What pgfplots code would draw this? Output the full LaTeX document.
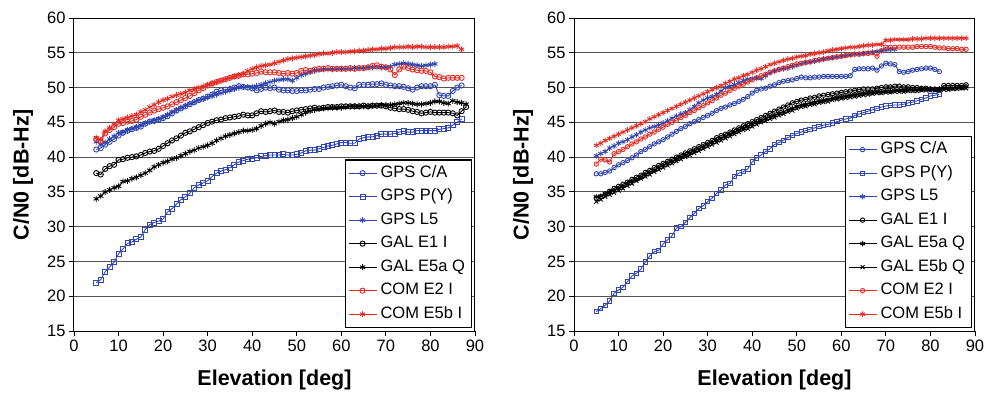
\documentclass[border=0pt]{standalone}
\usepackage{fontspec}
\setmainfont{Liberation Sans}
\usepackage{pgfplots}
\pgfplotsset{compat=1.18}
\usepackage{pgfplotstable}
\definecolor{gblue}{RGB}{50,70,175}
\definecolor{cred}{RGB}{228,45,38}
\definecolor{gridc}{RGB}{85,85,85}

\pgfplotstableread{
x ca py l5 e1 e5a e2 e5b
5 41.1 21.9 42.2 37.7 34.0 42.6 42.8
6 41.3 22.4 41.9 37.5 34.4 42.3 42.5
7 41.8 23.5 42.1 38.3 35.0 43.4 43.7
8 42.2 24.2 42.6 38.7 35.3 43.9 44.2
9 42.6 24.9 43.0 38.9 35.6 44.3 44.7
10 43.1 26.1 43.5 39.6 35.8 44.8 45.3
11 43.5 26.8 43.6 39.7 36.5 44.9 45.5
12 43.8 27.6 43.9 39.9 36.6 45.1 45.7
13 44.0 27.8 44.1 40.0 36.9 45.2 45.9
14 44.2 28.2 44.3 40.1 37.1 45.4 46.1
15 44.4 28.5 44.6 40.3 37.4 45.8 46.5
16 44.8 29.6 44.9 40.6 37.7 46.1 46.8
17 45.1 30.3 45.1 40.8 38.1 46.4 47.2
18 45.2 30.6 45.3 40.9 38.6 46.7 47.5
19 45.4 30.8 45.5 41.2 38.9 46.9 47.9
20 45.6 31.1 45.8 41.6 39.2 47.1 48.2
21 45.9 32.1 46.1 42.0 39.4 47.3 48.4
22 46.3 32.6 46.5 42.4 39.7 47.6 48.7
23 46.7 33.2 46.8 42.7 39.9 47.9 48.9
24 47.0 33.9 47.1 43.1 40.2 48.2 49.1
25 47.3 34.3 47.4 43.5 40.5 48.5 49.3
26 47.6 34.8 47.7 43.7 40.8 48.8 49.6
27 47.9 35.6 47.9 44.0 41.0 49.2 49.8
28 48.2 36.0 48.2 44.3 41.3 49.6 50.0
29 48.4 36.3 48.4 44.6 41.5 49.9 50.2
30 48.7 36.6 48.6 44.9 41.7 50.3 50.4
31 49.0 37.2 48.8 45.1 42.0 50.6 50.6
32 49.4 37.7 49.0 45.3 42.4 50.8 50.8
33 49.6 38.0 49.2 45.4 42.7 51.0 51.0
34 49.7 38.2 49.4 45.6 43.0 51.2 51.2
35 49.8 38.5 49.6 45.7 43.2 51.4 51.4
36 50.0 38.9 49.8 45.8 43.4 51.6 51.6
37 50.2 39.3 50.0 45.9 43.6 51.7 51.8
38 50.1 39.5 50.1 46.1 43.8 51.9 52.0
39 50.0 39.7 50.1 46.0 43.8 51.9 52.4
40 49.9 39.8 50.1 46.0 43.9 52.0 52.7
41 49.6 39.9 50.2 46.3 44.1 52.1 52.9
42 49.8 40.1 50.4 46.6 44.5 52.3 53.1
43 50.0 40.2 50.6 46.5 44.8 52.2 53.2
44 49.9 40.3 50.8 46.6 45.0 52.2 53.3
45 50.0 40.3 51.0 46.7 44.8 52.2 53.5
46 49.7 40.3 51.1 46.5 45.1 52.1 53.7
47 49.6 40.4 51.2 46.5 45.3 52.0 53.9
48 49.6 40.3 51.2 46.4 45.4 52.1 54.1
49 49.5 40.3 51.0 46.6 45.6 52.0 54.2
50 49.5 40.4 51.4 46.7 45.8 52.1 54.3
51 49.6 40.6 51.8 46.8 46.1 52.4 54.4
52 49.6 40.9 52.0 46.9 46.4 52.5 54.5
53 49.7 41.0 52.2 47.0 46.6 52.4 54.6
54 49.8 41.0 52.4 47.1 46.8 52.6 54.7
55 49.8 41.2 52.5 47.0 46.9 52.7 54.8
56 50.0 41.4 52.6 47.1 47.0 52.7 54.9
57 50.1 41.6 52.6 47.2 47.0 52.8 54.9
58 50.2 41.7 52.6 47.2 47.1 52.7 55.0
59 50.3 41.9 52.7 47.2 47.1 52.7 55.1
60 50.4 42.1 52.7 47.3 47.1 52.7 55.1
61 50.2 42.1 52.7 47.3 47.2 52.7 55.1
62 50.0 42.0 52.7 47.3 47.3 52.8 55.2
63 49.9 42.0 52.8 47.3 47.3 52.7 55.2
64 50.4 42.6 52.8 47.3 47.3 52.8 55.3
65 50.4 42.8 52.8 47.4 47.3 52.8 55.3
66 50.4 42.9 52.9 47.3 47.3 52.9 55.4
67 50.5 42.9 52.9 47.4 47.4 53.1 55.5
68 50.5 43.1 52.9 47.4 47.4 53.2 55.5
69 50.6 43.3 52.9 47.4 47.5 53.0 55.6
70 50.4 43.3 52.9 47.3 47.5 52.9 55.6
71 50.3 43.3 53.0 47.1 47.5 52.6 55.7
72 50.2 43.4 53.3 47.0 47.6 51.8 55.8
73 50.2 43.6 53.4 46.9 47.7 52.6 55.8
74 50.1 43.7 53.5 46.9 47.8 53.0 55.8
75 49.9 43.6 53.4 46.8 47.8 52.8 55.9
76 49.7 43.6 53.3 46.6 47.7 52.6 55.8
77 50.0 43.8 53.2 46.5 47.6 52.5 55.9
78 50.2 43.8 53.1 46.3 47.6 52.4 55.9
79 50.2 43.8 53.2 46.4 47.7 52.4 55.8
80 50.2 43.8 53.3 46.5 47.8 52.2 55.8
81 50.4 43.8 53.4 46.4 48.0 51.6 55.8
82 48.9 44.0 nan 46.4 48.0 51.5 55.8
83 48.8 44.1 nan 46.4 47.8 51.3 55.8
84 48.8 44.2 nan 46.4 47.7 51.4 55.9
85 49.5 44.6 nan 46.3 48.1 51.4 55.9
86 50.0 45.0 nan 46.0 47.9 51.4 56.0
87 50.3 45.5 nan 46.6 47.8 51.4 55.5
88 nan nan nan 47.2 47.6 nan nan
}\lefttab

\pgfplotstableread{
x ca py l5 e1 e5a e5b e2 e5bI
5 37.6 17.8 40.2 34.1 34.3 33.6 39.0 41.7
6 37.6 18.2 40.5 34.3 34.4 33.9 39.7 42.0
7 37.8 18.7 40.8 34.7 34.7 34.3 39.6 42.4
8 38.0 19.3 41.3 35.1 35.0 34.6 39.3 42.7
9 38.5 20.4 41.6 35.5 35.2 34.9 40.5 43.0
10 38.9 20.9 42.0 35.8 35.5 35.2 40.8 43.3
11 39.2 21.3 42.2 36.1 35.8 35.5 41.1 43.6
12 39.5 22.1 42.5 36.4 36.2 35.9 41.5 43.9
13 39.9 22.9 42.9 36.8 36.5 36.2 41.9 44.2
14 40.3 23.3 43.2 37.1 36.8 36.6 42.2 44.5
15 40.8 23.9 43.6 37.4 37.1 36.9 42.6 44.8
16 41.1 24.9 43.9 37.8 37.5 37.2 42.9 45.1
17 41.5 25.8 44.2 38.1 37.8 37.5 43.3 45.5
18 41.9 26.4 44.4 38.5 38.1 37.9 43.6 45.8
19 42.2 26.6 44.6 38.8 38.5 38.2 44.0 46.1
20 42.5 27.5 44.9 39.1 38.8 38.5 44.3 46.4
21 42.9 28.1 45.2 39.4 39.1 38.8 44.7 46.7
22 43.3 28.7 45.6 39.7 39.4 39.1 45.0 47.0
23 43.7 29.8 45.9 40.0 39.7 39.4 45.3 47.3
24 44.1 30.0 46.2 40.3 40.0 39.7 45.7 47.6
25 44.4 30.6 46.4 40.6 40.3 40.0 46.0 47.9
26 44.8 31.3 46.8 40.9 40.6 40.3 46.4 48.2
27 45.1 31.9 47.3 41.2 40.9 40.6 46.7 48.5
28 45.4 32.6 47.8 41.5 41.2 40.9 47.1 48.8
29 45.7 33.0 48.2 41.8 41.5 41.2 47.4 49.1
30 46.0 33.6 48.5 42.1 41.8 41.5 47.8 49.4
31 46.3 34.1 48.7 42.4 42.1 41.8 48.1 49.7
32 46.7 34.8 49.0 42.8 42.4 42.1 48.5 50.0
33 47.0 35.3 49.5 43.1 42.7 42.4 48.9 50.3
34 47.2 36.0 50.0 43.3 43.0 42.7 49.2 50.6
35 47.5 36.2 50.2 43.6 43.3 43.0 49.6 50.9
36 47.7 37.2 50.4 43.9 43.6 43.3 49.9 51.2
37 48.0 37.7 50.7 44.2 43.9 43.6 50.2 51.4
38 48.3 37.9 51.0 44.5 44.2 43.9 50.5 51.7
39 48.7 38.3 51.2 44.8 44.4 44.1 50.8 51.9
40 49.2 39.3 51.3 45.1 44.7 44.4 51.1 52.2
41 49.6 39.9 51.4 45.4 45.0 44.7 51.4 52.5
42 49.8 40.3 51.3 45.7 45.2 45.0 51.7 52.7
43 49.9 40.8 51.7 46.0 45.5 45.2 51.9 53.0
44 50.2 41.2 52.1 46.3 45.8 45.5 52.2 53.3
45 50.4 41.8 52.4 46.6 46.0 45.7 52.4 53.5
46 50.7 42.1 52.6 46.9 46.3 46.0 52.6 53.7
47 50.9 42.4 52.7 47.2 46.5 46.2 52.8 53.9
48 51.0 42.8 52.8 47.5 46.8 46.5 53.0 54.1
49 51.1 43.1 53.0 47.8 47.0 46.7 53.2 54.2
50 51.3 43.4 53.2 48.0 47.3 47.0 53.4 54.4
51 51.5 43.6 53.4 48.2 47.5 47.2 53.5 54.5
52 51.4 43.8 53.6 48.3 47.6 47.3 53.6 54.6
53 51.4 44.0 53.7 48.5 47.8 47.5 53.7 54.8
54 51.5 44.2 53.8 48.6 47.9 47.6 53.9 54.9
55 51.5 44.4 53.9 48.8 48.1 47.8 54.0 55.0
56 51.6 44.6 54.1 48.9 48.2 47.9 54.1 55.1
57 51.6 44.7 54.2 49.0 48.3 48.0 54.2 55.3
58 51.6 44.9 54.3 49.1 48.5 48.2 54.3 55.4
59 51.6 45.1 54.4 49.2 48.6 48.3 54.4 55.5
60 51.6 45.3 54.5 49.3 48.7 48.4 54.5 55.6
61 51.6 45.5 54.6 49.4 48.8 48.5 54.6 55.7
62 51.7 45.6 54.7 49.5 48.9 48.6 54.7 55.8
63 52.6 46.0 54.8 49.6 49.0 48.7 54.8 55.8
64 52.7 46.2 54.8 49.7 49.1 48.8 54.8 55.9
65 52.7 46.4 54.9 49.8 49.2 48.9 54.9 56.0
66 52.7 46.6 55.0 49.8 49.3 49.0 54.9 56.1
67 52.8 46.8 55.1 49.8 49.3 49.1 55.0 56.1
68 52.5 47.0 55.2 49.9 49.4 49.2 54.5 56.2
69 53.1 47.2 55.3 50.0 49.4 49.2 55.3 56.2
70 53.5 47.35 55.4 50.1 49.5 49.3 55.8 56.8
71 53.4 47.4 55.5 50.1 49.5 49.3 55.8 56.8
72 53.3 47.5 55.5 50.2 49.6 49.4 55.8 56.9
73 52.3 47.5 nan 50.2 49.6 49.4 55.8 56.9
74 52.2 47.6 nan 50.1 49.6 49.4 55.8 56.9
75 52.3 47.8 nan 50.1 49.7 49.5 55.8 56.9
76 52.5 47.9 nan 50.0 49.7 49.5 55.8 57.0
77 52.6 48.1 nan 50.0 49.7 49.5 55.9 57.0
78 52.7 48.3 nan 49.9 49.8 49.6 55.9 57.0
79 52.8 48.5 nan 49.9 49.8 49.6 55.9 57.1
80 52.8 48.8 nan 49.8 49.8 49.6 55.9 57.1
81 52.6 48.9 nan 49.7 49.8 49.6 55.8 57.1
82 52.3 49.0 nan 49.7 49.8 49.7 55.7 57.1
83 nan nan nan 50.3 49.9 49.7 55.7 57.1
84 nan nan nan 50.3 49.9 49.7 55.6 57.1
85 nan nan nan 50.3 49.9 49.8 55.6 57.1
86 nan nan nan 50.3 50.0 49.8 55.6 57.1
87 nan nan nan 50.3 50.0 49.9 55.5 57.1
88 nan nan nan 50.4 50.1 49.9 55.5 57.1
}\righttab

\pgfplotsset{
  panel/.style={
    scale only axis, width=401pt, height=313pt,
    anchor=south west,
    xmin=0, xmax=90, ymin=15, ymax=60,
    xtick={0,10,...,90}, ytick={15,20,...,60},
    tick align=outside, major tick length=5pt,
    xtick pos=bottom, ytick pos=left,
    ymajorgrids, grid style={gridc, line width=0.8pt},
    axis line style={black, line width=1pt},
    tick style={black, line width=0.8pt},
    ticklabel style={font=\fontsize{16.5}{18}\selectfont},
    /pgf/number format/assume math mode=true,
    xlabel={Elevation [deg]}, ylabel={C/N0 [dB-Hz]},
    label style={font=\fontsize{21.5}{24}\selectfont\bfseries},
    xlabel style={at={(axis description cs:0.5,-0.1565)}, anchor=center},
    ylabel style={at={(axis description cs:-0.1272,0.5)}, anchor=center},
    legend style={at={(axis description cs:1,0)}, anchor=south east,
      xshift=-3pt, yshift=3pt, draw=black, line width=1.2pt, fill=white,
      font=\fontsize{16.5}{18}\selectfont, row sep=0pt, inner xsep=3pt, inner ysep=1.5pt,
      nodes={inner xsep=3.5pt, inner ysep=4pt, text height=12pt, text depth=3.5pt}},
    legend cell align=left,
    legend image code/.code={\draw[mark repeat=2,mark phase=2,#1] plot coordinates {(0pt,0pt) (14pt,0pt) (28pt,0pt)};},
  },
  sb/.style={gblue, line width=0.9pt, mark options={solid, line width=0.9pt}},
  sk/.style={black, line width=0.9pt, mark options={solid, line width=0.9pt}},
  sr/.style={cred, line width=0.9pt, mark options={solid, line width=0.9pt}},
}

\begin{document}
\begin{tikzpicture}
\useasboundingbox (0,0) rectangle (988pt,392pt);
\begin{axis}[panel, at={(74pt,61pt)}]
\addplot[sb, mark=o, mark size=2.6pt] table[x=x,y=ca]{\lefttab};
\addlegendentry{GPS C/A}
\addplot[sb, mark=square, mark size=2.5pt] table[x=x,y=py]{\lefttab};
\addlegendentry{GPS P(Y)}
\addplot[sb, mark=asterisk, mark size=3pt] table[x=x,y=l5]{\lefttab};
\addlegendentry{GPS L5}
\addplot[sk, mark=o, mark size=2.6pt] table[x=x,y=e1]{\lefttab};
\addlegendentry{GAL E1 I}
\addplot[sk, mark=asterisk, mark size=3pt] table[x=x,y=e5a]{\lefttab};
\addlegendentry{GAL E5a Q}
\addplot[sr, mark=o, mark size=2.6pt] table[x=x,y=e2]{\lefttab};
\addlegendentry{COM E2 I}
\addplot[sr, mark=asterisk, mark size=3pt] table[x=x,y=e5b]{\lefttab};
\addlegendentry{COM E5b I}
\end{axis}
\begin{axis}[panel, at={(574pt,61pt)}]
\addplot[sb, mark=o, mark size=2.2pt] table[x=x,y=ca]{\righttab};
\addlegendentry{GPS C/A}
\addplot[sb, mark=square, mark size=2.2pt] table[x=x,y=py]{\righttab};
\addlegendentry{GPS P(Y)}
\addplot[sb, mark=asterisk, mark size=2.8pt] table[x=x,y=l5]{\righttab};
\addlegendentry{GPS L5}
\addplot[sk, mark=o, mark size=2.2pt] table[x=x,y=e1]{\righttab};
\addlegendentry{GAL E1 I}
\addplot[sk, mark=asterisk, mark size=2.8pt] table[x=x,y=e5a]{\righttab};
\addlegendentry{GAL E5a Q}
\addplot[sk, mark=x, mark size=2.8pt] table[x=x,y=e5b]{\righttab};
\addlegendentry{GAL E5b Q}
\addplot[sr, mark=o, mark size=2.2pt] table[x=x,y=e2]{\righttab};
\addlegendentry{COM E2 I}
\addplot[sr, mark=asterisk, mark size=2.8pt] table[x=x,y=e5bI]{\righttab};
\addlegendentry{COM E5b I}
\end{axis}
\end{tikzpicture}
\end{document}
